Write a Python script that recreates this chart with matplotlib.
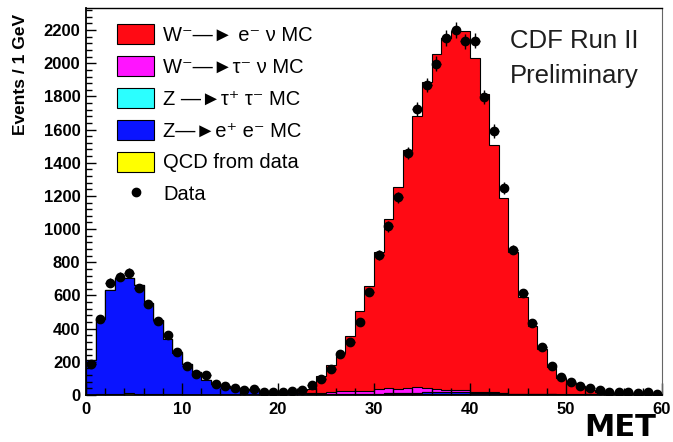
import numpy as np
import matplotlib
matplotlib.use("Agg")
import matplotlib.pyplot as plt
import matplotlib.patches as mpatches
from matplotlib.lines import Line2D
from matplotlib.ticker import MultipleLocator

# MET binning: 1 GeV bins from 0 to 60
edges = np.arange(0, 61, 1)

# Stacked MC components (events per bin)
w_enu = [0, 0, 0, 0, 0, 0, 0, 0, 0, 0,
         0, 0, 0, 0, 0, 0, 0, 0, 0, 0,
         2, 7, 15, 25, 102, 160, 233, 336, 482, 633,
         830, 1020, 1220, 1436, 1637, 1841, 2018, 2119, 2164, 2164,
         2015, 1794, 1490, 1171, 855, 584, 410, 269, 159, 96,
         66, 52, 23, 13, 7, 5, 5, 6, 6, 4]
w_taunu = [0, 0, 0, 0, 0, 0, 0, 0, 0, 0,
           0, 0, 0, 0, 0, 0, 0, 0, 0, 0,
           0, 0, 0, 3, 6, 10, 15, 15, 18, 18,
           28, 29, 22, 29, 34, 26, 18, 15, 10, 10,
           6, 5, 4, 3, 2, 2, 1, 1, 1, 1,
           1, 1, 1, 1, 1, 1, 1, 1, 1, 1]
z_tautau = [0, 0, 0, 0, 0, 1, 1, 1, 1, 1,
            1, 1, 1, 1, 1, 1, 1, 1, 1, 1,
            1, 2, 2, 2, 2, 2, 2, 2, 2, 2,
            2, 2, 2, 2, 2, 2, 2, 2, 2, 2,
            2, 2, 2, 2, 2, 2, 0, 0, 0, 0,
            0, 0, 0, 0, 0, 0, 0, 0, 0, 0]
z_ee = [208, 451, 626, 695, 691, 654, 545, 446, 328, 248,
        184, 135, 89, 65, 53, 40, 30, 26, 18, 14,
        12, 10, 8, 5, 4, 3, 2, 2, 2, 2,
        2, 2, 2, 2, 2, 8, 8, 8, 8, 8,
        8, 8, 8, 6, 2, 2, 2, 2, 1, 1,
        1, 1, 1, 1, 1, 1, 1, 1, 1, 1]
qcd = [0, 8, 8, 8, 12, 8, 8, 8, 8, 8,
       3, 3, 3, 3, 3, 3, 3, 3, 3, 3,
       3, 3, 3, 3, 3, 3, 3, 3, 3, 3,
       3, 8, 8, 8, 8, 8, 8, 8, 8, 8,
       3, 3, 3, 3, 3, 3, 3, 3, 6, 2,
       2, 2, 5, 5, 5, 5, 5, 2, 2, 2]

# Observed events per bin
data = [188, 459, 677, 713, 737, 644, 549, 446, 362, 261,
        172, 129, 119, 65, 55, 45, 30, 34, 20, 16,
        20, 26, 30, 58, 97, 155, 250, 317, 442, 623,
        844, 1017, 1191, 1459, 1722, 1869, 1997, 2152, 2200, 2133,
        2136, 1796, 1592, 1248, 877, 613, 436, 291, 177, 107,
        80, 54, 40, 30, 20, 17, 20, 14, 17, 6]

labels = ["W\u207b\u2014\u25ba e\u207b \u03bd MC",
          "W\u207b\u2014\u25ba\u03c4\u207b \u03bd MC",
          "Z \u2014\u25ba\u03c4\u207a \u03c4\u207b MC",
          "Z\u2014\u25bae\u207a e\u207b MC",
          "QCD from data"]
colors = ["#ff0a14", "#ff14ff", "#2bffff", "#0a14ff", "#ffff00"]

plt.rcParams['font.family'] = ['Liberation Sans', 'DejaVu Sans']

fig = plt.figure(figsize=(6.73, 4.42), dpi=100)
ax = fig.add_axes([86 / 673, 1 - 395 / 442, 576 / 673, 387 / 442])

# THStack style: each cumulative sum drawn from zero, top layer first
layers = [w_enu, w_taunu, z_tautau, z_ee, qcd]
cum = np.cumsum(np.array(layers[::-1], dtype=float), axis=0)[::-1]
for vals, col in zip(cum, colors):
    ax.stairs(vals, edges, fill=True, facecolor=col, edgecolor='black',
              linewidth=0.8, baseline=0)

centers = 0.5 * (edges[:-1] + edges[1:])
ax.errorbar(centers, data, yerr=np.sqrt(data), xerr=0.5, fmt='o',
            color='black', ms=6, lw=1, capsize=0, zorder=4)

ax.set_xlim(0, 60)
ax.set_ylim(0, 2333)
ax.xaxis.set_major_locator(MultipleLocator(10))
ax.xaxis.set_minor_locator(MultipleLocator(2))
ax.yaxis.set_major_locator(MultipleLocator(200))
ax.yaxis.set_minor_locator(MultipleLocator(40))
ax.tick_params(axis='x', which='major', direction='in', length=9, width=1,
               pad=5, labelsize=12)
ax.tick_params(axis='x', which='minor', direction='in', length=5, width=1)
ax.tick_params(axis='y', which='major', direction='in', length=7.5, width=1,
               pad=4, labelsize=12)
ax.tick_params(axis='y', which='minor', direction='in', length=4.5, width=1)
for lab in ax.get_xticklabels() + ax.get_yticklabels():
    lab.set_fontweight('bold')
for side in ['left', 'bottom']:
    ax.spines[side].set_linewidth(1.3)
ax.spines['top'].set_linewidth(1.0)
ax.spines['right'].set_linewidth(0.8)
ax.spines['right'].set_color('#666666')

ax.set_ylabel('Events / 1 GeV', fontsize=12.5, fontweight='bold')
ax.yaxis.set_label_coords(-0.10, 0.986)
ax.yaxis.label.set_horizontalalignment('right')

handles = [mpatches.Patch(facecolor=c, edgecolor='black', linewidth=0.8)
           for c in colors]
handles.append(Line2D([], [], marker='o', ls='none', color='black', ms=6))
leg = ax.legend(handles, labels + ['Data'], loc='upper left',
                bbox_to_anchor=(31 / 576, 1 - 16 / 387), frameon=False,
                fontsize=14.5, handlelength=1.85, handleheight=1.15,
                labelspacing=0.55, handletextpad=0.45, borderpad=0,
                borderaxespad=0)

ax.text(0.736, 0.897, 'CDF Run II', transform=ax.transAxes, fontsize=18.5,
        color='#1e1e1e', va='baseline')
ax.text(0.736, 0.806, 'Preliminary', transform=ax.transAxes, fontsize=18.5,
        color='#1e1e1e', va='baseline')

fig.text(0.868, 0.0, 'MET', fontsize=22, fontweight='bold',
         family='DejaVu Sans', va='bottom')

fig.savefig('out.png', dpi=100)
